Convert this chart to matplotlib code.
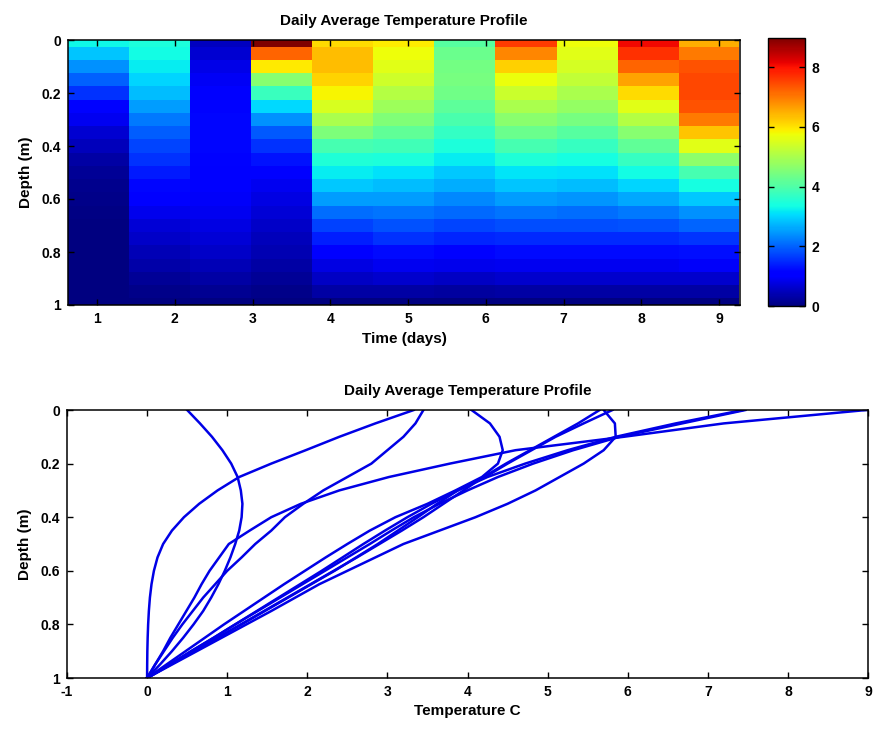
import numpy as np
import matplotlib
matplotlib.use("Agg")
import matplotlib.pyplot as plt
from matplotlib.ticker import FuncFormatter

plt.rcParams['font.family'] = ['Liberation Sans Narrow', 'Liberation Sans', 'DejaVu Sans']
plt.rcParams['font.weight'] = 'bold'
plt.rcParams['axes.labelweight'] = 'bold'
plt.rcParams['axes.titleweight'] = 'bold'
plt.rcParams['axes.unicode_minus'] = False
plt.rcParams['font.size'] = 10

# depth grid (m), shared by both panels
depth = [0.0, 0.05, 0.1, 0.15, 0.2, 0.25, 0.3, 0.35, 0.4, 0.45, 0.5,
         0.55, 0.6, 0.65, 0.7, 0.75, 0.8, 0.85, 0.9, 0.95, 1.0]

# time of each column in the top panel (days)
days = [1.02, 1.81, 2.59, 3.38, 4.16, 4.95, 5.73, 6.52, 7.30, 8.09, 8.87]

# temperature columns of the top panel (one list per day, top -> bottom)
h1 = [3.33, 2.85, 2.40, 1.98, 1.55, 1.15, 0.88, 0.65, 0.46, 0.31, 0.20, 0.13, 0.085, 0.055, 0.035, 0.022, 0.013, 0.007, 0.003, 0.001, 0.0]
h2 = [3.45, 3.35, 3.20, 3.00, 2.80, 2.50, 2.20, 1.95, 1.72, 1.55, 1.35, 1.18, 1.00, 0.85, 0.70, 0.57, 0.44, 0.32, 0.21, 0.10, 0.0]
h3 = [0.50, 0.66, 0.81, 0.94, 1.05, 1.13, 1.17, 1.19, 1.18, 1.15, 1.10, 1.04, 0.97, 0.89, 0.80, 0.70, 0.58, 0.45, 0.31, 0.16, 0.0]
h4 = [8.98, 7.20, 5.95, 4.60, 3.78, 3.02, 2.40, 1.92, 1.55, 1.28, 1.02, 0.90, 0.78, 0.68, 0.59, 0.49, 0.39, 0.29, 0.20, 0.10, 0.0]
h5 = [6.1, 6.35, 6.35, 6.15, 5.85, 5.5, 5.0, 4.5, 3.9, 3.5, 3.2, 2.9, 2.5, 2.1, 1.7, 1.4, 1.1, 0.8, 0.55, 0.3, 0.0]
h6 = [5.9, 5.75, 5.6, 5.4, 5.1, 4.85, 4.55, 4.2, 3.85, 3.45, 3.1, 2.8, 2.5, 2.15, 1.85, 1.55, 1.2, 0.9, 0.6, 0.3, 0.0]
h7 = [4.1, 4.3, 4.4, 4.42, 4.35, 4.15, 3.95, 3.7, 3.45, 3.2, 2.9, 2.65, 2.35, 2.05, 1.75, 1.45, 1.15, 0.85, 0.55, 0.28, 0.0]
h8 = [7.6, 6.9, 6.2, 5.7, 5.35, 5.0, 4.65, 4.3, 3.9, 3.5, 3.15, 2.85, 2.5, 2.15, 1.8, 1.5, 1.2, 0.9, 0.6, 0.3, 0.0]
h9 = [5.75, 5.6, 5.45, 5.25, 5.0, 4.75, 4.45, 4.1, 3.75, 3.4, 3.1, 2.8, 2.45, 2.1, 1.8, 1.5, 1.2, 0.9, 0.6, 0.3, 0.0]
h10 = [8.1, 7.7, 7.2, 6.6, 6.1, 5.6, 5.1, 4.6, 4.2, 3.75, 3.35, 3.0, 2.6, 2.2, 1.85, 1.5, 1.2, 0.9, 0.6, 0.3, 0.0]
h11 = [6.5, 7.0, 7.4, 7.5, 7.5, 7.4, 7.0, 6.3, 5.6, 4.7, 3.9, 3.4, 2.9, 2.4, 2.0, 1.6, 1.25, 0.95, 0.6, 0.3, 0.0]
heat_cols = [h1, h2, h3, h4, h5, h6, h7, h8, h9, h10, h11]

# profiles drawn in the bottom panel
p5 = [5.70, 5.84, 5.85, 5.70, 5.45, 5.15, 4.85, 4.50, 4.10, 3.65, 3.20, 2.85, 2.50, 2.15, 1.85, 1.55, 1.24, 0.93, 0.62, 0.31, 0.0]
p6 = [5.65, 5.38, 5.08, 4.78, 4.48, 4.20, 3.95, 3.70, 3.45, 3.18, 2.90, 2.62, 2.33, 2.04, 1.75, 1.46, 1.17, 0.88, 0.58, 0.29, 0.0]
p7 = [4.05, 4.28, 4.40, 4.44, 4.38, 4.18, 3.85, 3.50, 3.10, 2.78, 2.50, 2.23, 1.97, 1.71, 1.46, 1.21, 0.96, 0.72, 0.48, 0.24, 0.0]
p8 = [7.44, 6.60, 5.85, 5.25, 4.72, 4.25, 3.88, 3.55, 3.25, 2.97, 2.70, 2.44, 2.18, 1.91, 1.64, 1.37, 1.10, 0.83, 0.55, 0.28, 0.0]
p9 = [5.81, 5.45, 5.10, 4.80, 4.50, 4.22, 3.88, 3.62, 3.38, 3.13, 2.88, 2.61, 2.34, 2.05, 1.76, 1.47, 1.18, 0.88, 0.59, 0.29, 0.0]
p10 = [7.47, 6.68, 5.90, 5.32, 4.82, 4.38, 4.00, 3.65, 3.33, 3.05, 2.78, 2.50, 2.22, 1.94, 1.66, 1.38, 1.10, 0.83, 0.55, 0.28, 0.0]
profiles = [h1, h2, h3, h4, p5, p6, p7, p8, p9, p10]

title = 'Daily Average Temperature Profile'
fmt = FuncFormatter(lambda v, pos: '%g' % v)


def style(ax):
    ax.tick_params(direction='in', top=True, right=True, length=4, width=1, pad=5)
    for s in ax.spines.values():
        s.set_linewidth(1.1)
    ax.xaxis.set_major_formatter(fmt)
    ax.yaxis.set_major_formatter(fmt)


fig = plt.figure(figsize=(8.73, 7.31), dpi=100)

# top: heat map
ax1 = fig.add_axes([68/873, 1-305/731, 672/873, 265/731])
T = np.array(heat_cols).T
mesh = ax1.pcolormesh(days, depth, T, cmap='jet', shading='nearest',
                      vmin=0, vmax=T.max())
ax1.set_xlim(0.627, 9.27)
ax1.set_ylim(1, 0)
ax1.set_xticks(range(1, 10))
ax1.set_yticks([0, 0.2, 0.4, 0.6, 0.8, 1])
ax1.set_xlabel('Time (days)', fontsize=11, labelpad=4)
ax1.set_ylabel('Depth (m)', fontsize=11, labelpad=6)
ax1.set_title(title, fontsize=11, pad=11)
style(ax1)

cax = fig.add_axes([768/873, 1-306/731, 37/873, 268/731])
cb = fig.colorbar(mesh, cax=cax, ticks=[0, 2, 4, 6, 8])
cb.outline.set_linewidth(1.0)
cax.tick_params(direction='in', left=True, right=True, length=4, width=1, pad=5)

# bottom: profiles
ax2 = fig.add_axes([67/873, 1-678/731, 801/873, 268/731])
for p in profiles:
    ax2.plot(p, depth, color='#0000e6', lw=1.8)
ax2.set_xlim(-1, 9)
ax2.set_ylim(1, 0)
ax2.set_xticks(range(-1, 10))
ax2.set_yticks([0, 0.2, 0.4, 0.6, 0.8, 1])
ax2.set_xlabel('Temperature C', fontsize=11, labelpad=4)
ax2.set_ylabel('Depth (m)', fontsize=11, labelpad=6)
ax2.set_title(title, fontsize=11, pad=11)
style(ax2)

fig.savefig('out.png', dpi=100)
